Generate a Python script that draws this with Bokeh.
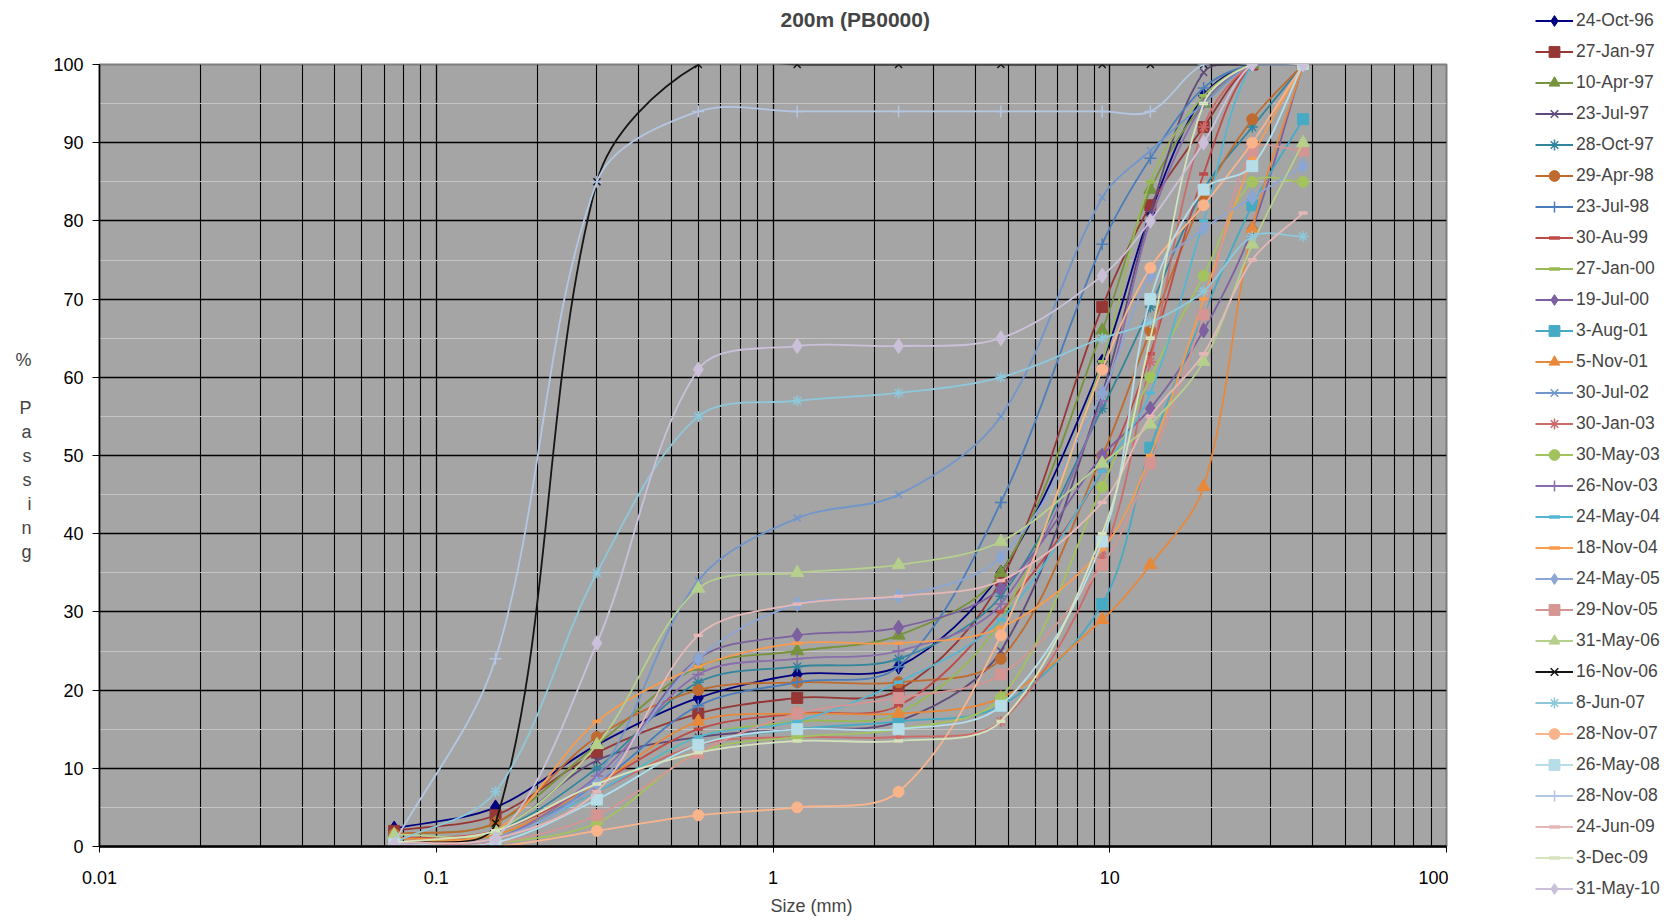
import numpy as np
from bokeh.plotting import figure
from bokeh.layouts import row
from bokeh.models import (FixedTicker, CustomJSTickFormatter, Legend, LegendItem,
                          Range1d, Title)
from bokeh.embed import file_html
from bokeh.resources import INLINE

# ---------------- data ----------------
sizes_mm = [0.075, 0.15, 0.3, 0.6, 1.18, 2.36, 4.75, 9.5, 13.2, 19, 26.5, 37.5]

dates = ["24-Oct-96", "27-Jan-97", "10-Apr-97", "23-Jul-97", "28-Oct-97", "29-Apr-98",
         "23-Jul-98", "30-Au-99", "27-Jan-00", "19-Jul-00", "3-Aug-01", "5-Nov-01",
         "30-Jul-02", "30-Jan-03", "30-May-03", "26-Nov-03", "24-May-04", "18-Nov-04",
         "24-May-05", "29-Nov-05", "31-May-06", "16-Nov-06", "8-Jun-07", "28-Nov-07",
         "26-May-08", "28-Nov-08", "24-Jun-09", "3-Dec-09", "31-May-10"]

p_24Oct96 = [2.3, 5, 13, 19, 22, 23, 35, 62, 81, 96, 100, 100]
p_27Jan97 = [2, 4, 12, 17, 19, 20, 34, 69, 82, 92, 100, 100]
p_10Apr97 = [1.5, 3, 13, 23, 25, 27, 35, 66, 84, 95, 100, 100]
p_23Jul97 = [1, 2, 11, 14, 15, 16, 25, 58, 81, 99, 100, 100]
p_28Oct97 = [1, 2, 10, 21, 23, 24, 32, 56, 69, 84, 92, 100]
p_29Apr98 = [1.6, 3, 14, 20, 21, 21, 24, 50, 66, 83, 93, 100]
p_23Jul98 = [0.5, 1, 8, 18, 21, 23, 44, 77, 88, 97, 100, 100]
p_30Au99 = [1, 2, 8, 15, 17, 18, 30, 48, 63, 86, 100, 100]
p_27Jan00 = [0.5, 1.5, 7, 14, 16, 17, 29, 62, 85, 96, 100, 100]
p_19Jul00 = [0.5, 1, 8, 24, 27, 28, 33, 50, 56, 66, 79, 100]
p_3Aug01 = [0.3, 0.5, 6, 13, 15, 16, 18, 31, 51, 68, 82, 93]
p_5Nov01 = [1, 1.5, 8, 16, 17, 17, 19, 29, 36, 46, 79, 100]
p_30Jul02 = [0.3, 1, 9, 34, 42, 45, 55, 83, 89, 95, 100, 100]
p_30Jan03 = [0.5, 1, 7, 13, 14, 14, 16, 37, 62, 92, 100, 100]
p_30May03 = [0.3, 0.5, 3, 12, 14, 15, 19, 46, 60, 73, 85, 85]
p_26Nov03 = [0.5, 1, 9, 22, 24, 25, 31, 57, 80, 95, 100, 100]
p_24May04 = [0.3, 1, 7, 14, 16, 21, 29, 48, 58, 80, 100, 100]
p_18Nov04 = [0.5, 2, 16, 23, 26, 26, 28, 38, 50, 70, 88, 100]
p_24May05 = [0.5, 1, 8, 24, 31, 32, 37, 58, 73, 79, 83, 87]
p_29Nov05 = [0.3, 0.5, 4, 12, 17, 19, 22, 36, 49, 68, 89, 89]
p_31May06 = [1.5, 2, 13, 33, 35, 36, 39, 49, 54, 62, 77, 90]
p_16Nov06 = [0.3, 3, 85, 100, 100, 100, 100, 100, 100, 100, 100, 100]
p_8Jun07 = [0.5, 7, 35, 55, 57, 58, 60, 65, 67, 71, 78, 78]
p_28Nov07 = [0, 0, 2, 4, 5, 7, 27, 61, 74, 82, 90, 100]
p_26May08 = [0.3, 0.5, 6, 13, 15, 15, 18, 39, 70, 84, 87, 100]
p_28Nov08 = [0.5, 24, 85, 94, 94, 94, 94, 94, 94, 100, 100, 100]
p_24Jun09 = [0.5, 1, 7, 27, 31, 32, 34, 44, 55, 63, 75, 81]
p_3Dec09 = [0.5, 2, 8, 12, 13.5, 13.5, 16, 40, 65, 95, 100, 100]
p_31May10 = [0.3, 1, 26, 61, 64, 64, 65, 73, 80, 90, 100, 100]

series_values = [p_24Oct96, p_27Jan97, p_10Apr97, p_23Jul97, p_28Oct97, p_29Apr98,
                 p_23Jul98, p_30Au99, p_27Jan00, p_19Jul00, p_3Aug01, p_5Nov01,
                 p_30Jul02, p_30Jan03, p_30May03, p_26Nov03, p_24May04, p_18Nov04,
                 p_24May05, p_29Nov05, p_31May06, p_16Nov06, p_8Jun07, p_28Nov07,
                 p_26May08, p_28Nov08, p_24Jun09, p_3Dec09, p_31May10]

x_ticks = [0.01, 0.1, 1, 10, 100]
y_ticks = [0, 10, 20, 30, 40, 50, 60, 70, 80, 90, 100]

# ---------------- styles ----------------
colors = ["#000080", "#953735", "#77933C", "#604A7B", "#31859C", "#BF6B30",
          "#4A7EBB", "#BE4B48", "#98B954", "#7D60A0", "#46AAC5", "#E8883A",
          "#7096CC", "#CE6B69", "#A2C35E", "#8A6DAD", "#55B6D3", "#F89B4E",
          "#8CA6D4", "#D49593", "#B5CF8C", "#151515", "#8DC8DB", "#F9B48C",
          "#B6DDE8", "#B3C7E3", "#E5B8B7", "#D5E3BC", "#CBC0DA"]
markers = ["diamond", "square", "triangle", "x", "asterisk", "circle",
           "cross", "dash", "dash", "diamond", "square", "triangle",
           "x", "asterisk", "circle", "cross", "dash", "dash",
           "diamond", "square", "triangle", "x", "asterisk", "circle",
           "square", "cross", "dash", "dash", "diamond"]
msize = {"diamond": 15, "square": 11, "triangle": 13, "x": 10, "asterisk": 11,
         "circle": 11, "cross": 12, "dash": 9}


def marker_lw(m):
    if m == "dash":
        return 3.5
    if m in ("x", "asterisk", "cross"):
        return 1.5
    return 1


FONT = "Liberation Sans"
PX_PER_DECADE = 337.0   # screen aspect, used only for curve smoothing
PX_PER_UNIT = 7.82

p = figure(width=1448, height=924, x_axis_type="log", title=None,
           x_range=Range1d(0.01, 100), y_range=Range1d(0, 100),
           output_backend="svg", toolbar_location=None,
           min_border_left=99, min_border_right=2,
           min_border_top=64, min_border_bottom=78)

p.background_fill_color = "#A5A5A5"
p.border_fill_color = "white"
p.outline_line_color = "#7F7F7F"
p.outline_line_width = 2

# title (a blank spacer title sits between the frame and the real title)
p.add_layout(Title(text=" ", text_font_size="1px", standoff=28), "above")
p.add_layout(Title(text="200m (PB0000)", align="left", offset=681, text_font=FONT,
                   text_font_size="21px", text_font_style="bold", standoff=6),
             "above")

xt = FixedTicker(ticks=x_ticks,
                 minor_ticks=[k * 10.0 ** e for e in range(-2, 2) for k in range(2, 10)])
yt = FixedTicker(ticks=y_ticks, minor_ticks=[v + 5 for v in y_ticks[:-1]])
p.xaxis.ticker = xt
p.yaxis.ticker = yt
p.xgrid.ticker = xt
p.ygrid.ticker = yt
p.xaxis.formatter = CustomJSTickFormatter(code="return String(+tick.toPrecision(6));")

p.xgrid.grid_line_color = "black"
p.xgrid.grid_line_width = 1.3
p.xgrid.minor_grid_line_color = "black"
p.xgrid.minor_grid_line_width = 1.1
p.ygrid.grid_line_color = "black"
p.ygrid.grid_line_width = 1.5
p.ygrid.minor_grid_line_color = "#C4C4C4"
p.ygrid.minor_grid_line_width = 1

for ax in (p.xaxis[0], p.yaxis[0]):
    ax.axis_line_color = "black"
    ax.major_tick_line_color = "black"
    ax.minor_tick_line_color = None
    ax.major_tick_in = 0
    ax.major_label_text_font = FONT
    ax.major_label_text_font_size = "18px"
    ax.major_label_text_color = "black"
p.xaxis.axis_line_width = 2.5
p.xaxis.major_tick_out = 6
p.xaxis.major_label_standoff = 18
p.yaxis.axis_line_width = 1.5
p.yaxis.major_tick_out = 7
p.yaxis.major_label_standoff = 9

ya = p.yaxis[0]
ya.axis_label = "%\n\nP\na\ns\ns\ni\nn\ng"
ya.axis_label_text_font = FONT
ya.axis_label_text_font_size = "18px"
ya.axis_label_text_font_style = "normal"
ya.axis_label_text_line_height = 1.2
ya.axis_label_standoff = 19
try:
    ya.axis_label_orientation = "horizontal"
    ya.axis_label_text_align = "center"
except AttributeError:
    ya.axis_label = "% Passing"

p.add_layout(Title(text="Size (mm)", align="left", offset=671, text_font=FONT,
                   text_font_size="18px", text_font_style="normal", standoff=15),
             "below")

# ---------------- series ----------------
u = np.log10(np.array(sizes_mm, dtype=float))
xs = np.array(sizes_mm, dtype=float)
n = len(u)
i = np.arange(n - 1)
p0 = np.maximum(i - 1, 0)
p3 = np.minimum(i + 2, n - 1)

for vals, c, m in zip(series_values, colors, markers):
    y = np.array(vals, dtype=float)
    su, sy = u * PX_PER_DECADE, y * PX_PER_UNIT
    d = np.hypot(np.diff(su), np.diff(sy))
    d01 = np.where(i > 0, d[np.maximum(i - 1, 0)], 0.0)
    d12 = d[i]
    d23 = np.where(i + 2 < n, d[np.minimum(i + 1, n - 2)], 0.0)
    k1 = d12 / (3.0 * (d01 + d12) + 1e-12)
    k2 = d12 / (3.0 * (d12 + d23) + 1e-12)
    cx0 = 10 ** (u[i] + (u[i + 1] - u[p0]) * k1)
    cy0 = y[i] + (y[i + 1] - y[p0]) * k1
    cx1 = 10 ** (u[i + 1] - (u[p3] - u[i]) * k2)
    cy1 = y[i + 1] - (y[p3] - y[i]) * k2
    p.bezier(x0=xs[i], y0=y[i], x1=xs[i + 1], y1=y[i + 1],
             cx0=cx0, cy0=cy0, cx1=cx1, cy1=cy1,
             line_color=c, line_width=1.8)
    p.scatter(x=xs, y=y, marker=m, size=msize[m], fill_color=c,
              line_color=c, line_width=marker_lw(m))

# ---------------- legend (separate panel on the right) ----------------
lg = figure(width=222, height=924, output_backend="svg", toolbar_location=None,
            title=None, x_axis_location=None, y_axis_location=None,
            x_range=Range1d(0, 1), y_range=Range1d(0, 1),
            min_border=0, outline_line_color=None)
lg.grid.visible = False
lg.background_fill_color = "white"
lg.border_fill_color = "white"

legend_y = 22
try:
    lg.frame_align = False
    p.frame_align = False
except AttributeError:
    legend_y = 22 - 78

items = []
for name, c, m in zip(dates, colors, markers):
    lr = lg.line(x=[np.nan], y=[np.nan], line_color=c, line_width=1.8)
    sr = lg.scatter(x=[np.nan], y=[np.nan], marker=m, fill_color=c, line_color=c,
                    line_width=marker_lw(m))
    items.append(LegendItem(label=name, renderers=[lr, sr]))

legend = Legend(items=items, location=(87, legend_y), orientation="vertical",
                glyph_width=38, glyph_height=27, label_height=21, spacing=4,
                padding=5, margin=0, border_line_color=None,
                background_fill_alpha=0, label_text_font=FONT,
                label_text_font_size="17.5px", label_standoff=3,
                label_text_baseline="middle")
lg.add_layout(legend)

layout = row(p, lg, spacing=0)
open("out.html", "w").write(file_html(layout, INLINE))
